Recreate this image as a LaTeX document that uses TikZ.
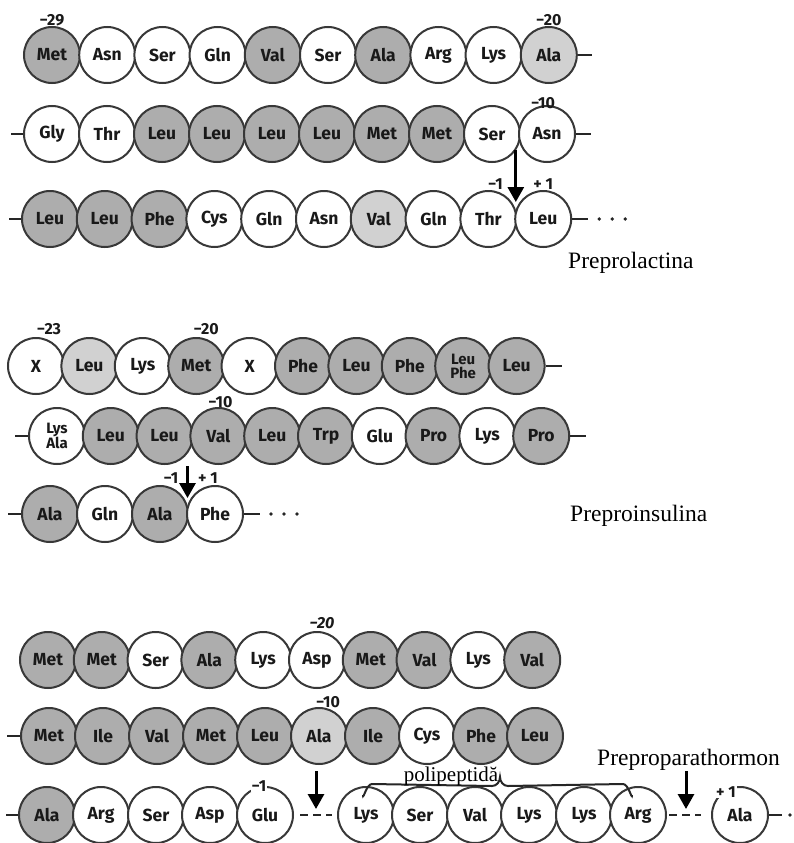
\documentclass[tikz,border=0pt]{standalone}
\usepackage{fontspec}
\setmainfont{Liberation Serif}
\newfontfamily\aafont{Fira Sans}
\usetikzlibrary{arrows.meta,calc}
\tikzset{
 aa/.style={circle, draw=black!78, line width=2pt, minimum size=56pt, inner sep=0pt, align=center,
   font=\aafont\bfseries\fontsize{17.5}{17.5}\selectfont, text=black!90},
 sh/.style={aa, fill=black!32},
 lt/.style={aa, fill=black!18},
 wh/.style={aa, fill=white},
 sh2/.style={sh, font=\aafont\bfseries\fontsize{15}{14}\selectfont},
 wh2/.style={wh, font=\aafont\bfseries\fontsize{15}{14}\selectfont},
 num/.style={font=\aafont\bfseries\fontsize{16}{16}\selectfont, inner sep=0pt, text=black!90},
 numw/.style={num, fill=white, inner sep=1pt},
 title/.style={font=\fontsize{23.5}{23.5}\selectfont, inner sep=0pt, anchor=base west},
 bond/.style={line width=2.5pt, draw=black!85},
 gap/.style={line width=2.5pt, draw=black!85, dash pattern=on 8pt off 5pt},
 cut/.style={line width=3pt, draw=black, -{Triangle[length=15pt,width=16pt]}},
 dot/.style={circle, fill=black!85, inner sep=0pt, minimum size=3.8pt},
 brace/.style={line width=2pt, draw=black!85},
}
\begin{document}
\begin{tikzpicture}[x=1pt,y=-1pt]
\fill[white] (0,0) rectangle (794,843);
\useasboundingbox (0,0) rectangle (794,843);

% ---------------- Preprolactina ----------------
\foreach \lab/\sty [count=\i from 0] in {Met/sh,Asn/wh,Ser/wh,Gln/wh,Val/sh,Ser/wh,Ala/sh,Arg/wh,Lys/wh,Ala/lt}
  \node[\sty] (r1-\i) at ({52+55.2*\i},55) {\lab};
\draw[bond] (r1-9.east) -- ++(14,0);
\node[num] (l29) at ($(r1-0.north)+(0,-6)$) {−29};
\node[num] (l20a) at ($(r1-9.north)+(0,-6)$) {−20};

\foreach \lab/\sty [count=\i from 0] in {Gly/wh,Thr/wh,Leu/sh,Leu/sh,Leu/sh,Leu/sh,Met/sh,Met/sh,Ser/wh,Asn/wh}
  \node[\sty] (r2-\i) at ({52+55*\i},134) {\lab};
\draw[bond] (r2-0.west) -- ++(-12,0);
\draw[bond] (r2-9.east) -- ++(15,0);
\node[num] (l10a) at ($(r2-9.north)+(-4,-2)$) {−10};

\foreach \lab/\sty [count=\i from 0] in {Leu/sh,Leu/sh,Phe/sh,Cys/wh,Gln/wh,Asn/wh,Val/lt,Gln/wh,Thr/wh,Leu/wh}
  \node[\sty] (r3-\i) at ({50+54.8*\i},219) {\lab};
\draw[bond] (r3-0.west) -- ++(-12,0);
\draw[bond] (r3-9.east) -- ++(16,0);
\node[dot] (d3a) at ($(r3-9.east)+(27,0)$) {};
\node[dot] (d3b) at ($(r3-9.east)+(40,0)$) {};
\node[dot] (d3c) at ($(r3-9.east)+(53,0)$) {};
\coordinate (c1e) at ($(r3-8)!0.5!(r3-9)+(0,-17)$);
\coordinate (c1s) at ($(c1e |- r2-9)+(0,16)$);
\draw[cut] (c1s) -- (c1e);
\node[numw] (m1a) at ($(r3-8.north)+(7,-6)$) {−1};
\node[numw] (p1a) at ($(r3-9.north)+(0,-6)$) {+ 1};
\node[title] (t1) at (568,268) {Preprolactina};

% ---------------- Preproinsulina ----------------
\foreach \lab/\sty [count=\i from 0] in {X/wh,Leu/lt,Lys/wh,Met/sh,X/wh,Phe/sh,Leu/sh,Phe/sh,Leu\\Phe/sh2,Leu/sh}
  \node[\sty] (r4-\i) at ({36+53.4*\i},366) {\lab};
\draw[bond] (r4-9.east) -- ++(16,0);
\node[num] (l23) at ($(r4-0.north)+(13,-8)$) {−23};
\node[num] (l20b) at ($(r4-3.north)+(10,-8)$) {−20};

\foreach \lab/\sty [count=\i from 0] in {Lys\\Ala/wh2,Leu/sh,Leu/sh,Val/sh,Leu/sh,Trp/sh,Glu/wh,Pro/sh,Lys/wh,Pro/sh}
  \node[\sty] (r5-\i) at ({57+53.8*\i},436) {\lab};
\draw[bond] (r5-0.west) -- ++(-13,0);
\draw[bond] (r5-9.east) -- ++(16,0);
\node[num] (l10b) at ($(r5-3.north)+(2,-5)$) {−10};

\foreach \lab/\sty [count=\i from 0] in {Ala/sh,Gln/wh,Ala/sh,Phe/wh}
  \node[\sty] (r6-\i) at ({50+55*\i},514) {\lab};
\draw[bond] (r6-0.west) -- ++(-13,0);
\draw[bond] (r6-3.east) -- ++(16,0);
\node[dot] (d6a) at ($(r6-3.east)+(27,0)$) {};
\node[dot] (d6b) at ($(r6-3.east)+(40,0)$) {};
\node[dot] (d6c) at ($(r6-3.east)+(53,0)$) {};
\coordinate (c2s) at ($(r6-2)!0.5!(r6-3)+(0,-48)$);
\coordinate (c2e) at ($(r6-2)!0.5!(r6-3)+(0,-16)$);
\draw[cut] (c2s) -- (c2e);
\node[numw] (m1b) at ($(r6-2.north)+(11,-7)$) {−1};
\node[numw] (p1b) at ($(r6-3.north)+(-7,-7)$) {+ 1};
\node[title] (t2) at (570,521) {Preproinsulina};

% ---------------- Preproparathormon ----------------
\foreach \lab/\sty [count=\i from 0] in {Met/sh,Met/sh,Ser/wh,Ala/sh,Lys/wh,Asp/wh,Met/sh,Val/sh,Lys/wh,Val/sh}
  \node[\sty] (r7-\i) at ({48+53.8*\i},660) {\lab};
\node[num, font=\aafont\bfseries\itshape\fontsize{16}{16}\selectfont] (l20c) at ($(r7-5.north)+(5,-8)$) {−20};

\foreach \lab/\sty [count=\i from 0] in {Met/sh,Ile/sh,Val/sh,Met/sh,Leu/sh,Ala/lt,Ile/sh,Cys/wh,Phe/sh,Leu/sh}
  \node[\sty] (r8-\i) at ({49+54*\i},736) {\lab};
\draw[bond] (r8-0.west) -- ++(-13,0);
\node[num] (l10c) at ($(r8-5.north)+(9,-5)$) {−10};

\foreach \lab/\sty/\xx [count=\i from 0] in {Ala/sh/47,Arg/wh/101,Ser/wh/156,Asp/wh/210,Glu/wh/265,Lys/wh/366,Ser/wh/420,Val/wh/475,Lys/wh/529,Lys/wh/584,Arg/wh/638,Ala/wh/740}
  \node[\sty] (r9-\i) at (\xx,815) {\lab};
\draw[bond] (r9-0.west) -- ++(-12,0);
\draw[gap] ($(r9-4.east)+(6,0)$) -- ($(r9-5.west)+(-5,0)$);
\draw[gap] ($(r9-10.east)+(2,0)$) -- ($(r9-11.west)+(-10,0)$);
\draw[bond] (r9-11.east) -- ++(13,0);
\node[dot] (d9a) at ($(r9-11.east)+(21,0)$) {};
\node[dot] (d9b) at ($(r9-11.east)+(31,0)$) {};
\coordinate (c3s) at (316,771);
\coordinate (c3e) at (316,809);
\draw[cut] (c3s) -- (c3e);
\coordinate (c4s) at (686,771);
\coordinate (c4e) at (686,809);
\draw[cut] (c4s) -- (c4e);
\node[numw] (m1c) at ($(r9-4.north)+(-6,0)$) {−1};
\node[numw] (p1c) at ($(r9-11.north)+(-14,6)$) {+ 1};
% brace over the polypeptide
\coordinate (bl) at ($(r9-5.north)+(-3,9)$);
\coordinate (br) at ($(r9-10.north)+(-6,9)$);
\coordinate (bt) at (500,777);
\draw[brace] (bl) to[out=-90,in=180] ($(bl)+(9,-11)$) -- ($(bt)+(-8,9)$) to[out=0,in=-90] (bt)
   to[out=-90,in=180] ($(bt)+(8,9)$) -- ($(br)+(-9,-11)$) to[out=0,in=-90] (br);
\node[font=\fontsize{21}{21}\selectfont, inner sep=0pt, anchor=base] (pp) at (451,781) {polipeptidă};
\node[title] (t3) at (597,765) {Preproparathormon};
\end{tikzpicture}
\end{document}
